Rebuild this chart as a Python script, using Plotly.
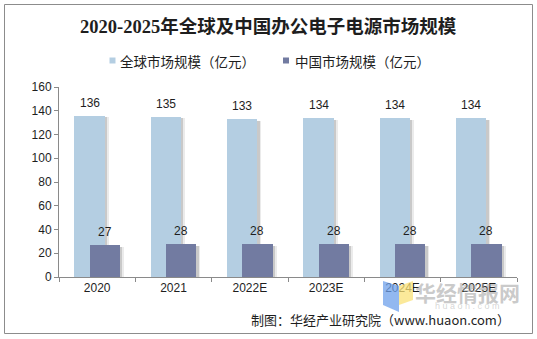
import plotly.graph_objects as go

# Market size data (亿元)
years = ["2020", "2021", "2022E", "2023E", "2024E", "2025E"]
global_size = [136, 135, 133, 134, 134, 134]
china_size = [27, 28, 28, 28, 28, 28]
series_names = ["全球市场规模（亿元）", "中国市场规模（亿元）"]
y_ticks = [0, 20, 40, 60, 80, 100, 120, 140, 160]

title_text = "2020-2025年全球及中国办公电子电源市场规模"
source_text = "制图：华经产业研究院（www.huaon.com）"

W, H = 537, 339
X0, X1, Y0, Y1 = 59, 517, 87, 277  # plot area in pixels


def px(x):
    return (x - X0) / (X1 - X0)


def py(y):
    return (Y1 - y) / (Y1 - Y0)


BLUE = "#B4CEE2"
SLATE = "#727BA1"
TEXT = "#1e1e1e"
AXIS = "#8a8a8a"
BAR_W = 0.4
OFF_G = -0.3
OFF_C = -0.1

fig = go.Figure()


def add_series(vals, color, offset, name):
    # soft drop shadow on the right side of each bar
    for dx, alpha in ((0.05, 0.08), (0.028, 0.14)):
        fig.add_trace(go.Bar(
            x=years, y=[v - 1.5 for v in vals], width=BAR_W, offset=offset + dx,
            marker=dict(color=f"rgba(0,0,0,{alpha})", line=dict(width=0)),
            showlegend=False, hoverinfo="skip"))
    fig.add_trace(go.Bar(
        x=years, y=vals, width=BAR_W, offset=offset, name=name,
        marker=dict(color=color, line=dict(width=0)), showlegend=False))


add_series(global_size, BLUE, OFF_G, series_names[0])
add_series(china_size, SLATE, OFF_C, series_names[1])

annotations = []
for i, (g, c) in enumerate(zip(global_size, china_size)):
    for v, off in ((g, OFF_G), (c, OFF_C)):
        annotations.append(dict(
            x=i + off + BAR_W / 2, y=v, xref="x", yref="y", text=str(v),
            showarrow=False, yanchor="middle", yshift=13,
            font=dict(family="Liberation Sans, Arial", size=12, color=TEXT)))

# title
annotations.append(dict(
    x=px(W / 2), y=py(27), xref="paper", yref="paper", text=f"<b>{title_text}</b>",
    showarrow=False, xanchor="center", yanchor="middle",
    font=dict(family="Liberation Serif, Noto Sans CJK SC", size=18.5, color=TEXT)))

# legend
shapes = []
legend_items = [(112.5, 118, BLUE), (286, 292.5, SLATE)]
for (mx, tx, col), name in zip(legend_items, series_names):
    shapes.append(dict(type="rect", xref="paper", yref="paper",
                       x0=px(mx - 3), x1=px(mx + 3), y0=py(63.5), y1=py(57.5),
                       fillcolor=col, line=dict(width=0)))
    annotations.append(dict(
        x=px(tx), y=py(61), xref="paper", yref="paper", text=name,
        showarrow=False, xanchor="left", yanchor="middle",
        font=dict(family="Noto Sans CJK SC", size=13.5, color=TEXT)))

# faint watermark
annotations.append(dict(
    x=px(467), y=py(292), xref="paper", yref="paper", text="<b>华经情报网</b>",
    showarrow=False, xanchor="center", yanchor="middle",
    font=dict(family="Noto Sans CJK SC", size=21, color="rgba(150,150,150,0.5)")))
annotations.append(dict(
    x=px(467), y=py(306), xref="paper", yref="paper", text="h u a o n . c o m",
    showarrow=False, xanchor="center", yanchor="middle",
    font=dict(family="Liberation Sans", size=9, color="rgba(160,160,160,0.45)")))
shapes.append(dict(type="path", xref="paper", yref="paper",
                   path=f"M {px(383)} {py(281)} L {px(399)} {py(286)} L {px(399)} {py(312)} L {px(383)} {py(305)} Z",
                   fillcolor="rgba(110,160,235,0.75)", line=dict(width=0)))
shapes.append(dict(type="path", xref="paper", yref="paper",
                   path=f"M {px(399)} {py(286)} L {px(413)} {py(281)} L {px(413)} {py(300)} L {px(399)} {py(305)} Z",
                   fillcolor="rgba(250,225,120,0.75)", line=dict(width=0)))

# source note
annotations.append(dict(
    x=px(512), y=py(319), xref="paper", yref="paper", text=source_text,
    showarrow=False, xanchor="right", yanchor="middle",
    font=dict(family="Noto Sans CJK SC", size=13, color=TEXT)))

# outer frame
shapes.append(dict(type="rect", xref="paper", yref="paper",
                   x0=px(4.5), x1=px(532.5), y0=py(4.5), y1=py(333.5),
                   line=dict(color="#8c8c8c", width=1), fillcolor="rgba(0,0,0,0)"))

fig.update_layout(
    width=W, height=H,
    margin=dict(l=X0, r=W - X1, t=Y0, b=H - Y1),
    paper_bgcolor="white", plot_bgcolor="white",
    barmode="overlay", bargap=0,
    showlegend=False,
    annotations=annotations, shapes=shapes,
    xaxis=dict(type="category", tickson="boundaries", ticks="outside", ticklen=4,
               tickcolor=AXIS, showline=True, linecolor=AXIS, showgrid=False,
               range=[-0.5, 5.5], fixedrange=True,
               tickfont=dict(family="Liberation Sans, Arial", size=12, color=TEXT)),
    yaxis=dict(range=[0, 160], tickvals=y_ticks, ticks="outside", ticklen=4,
               tickcolor=AXIS, showline=True, linecolor=AXIS, showgrid=False,
               zeroline=False, fixedrange=True,
               tickfont=dict(family="Liberation Sans, Arial", size=12, color=TEXT)),
)

fig.write_html("out.html")
